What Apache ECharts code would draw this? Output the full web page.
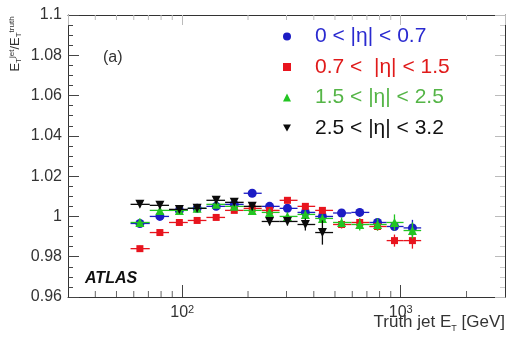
<!DOCTYPE html>
<html>
<head>
<meta charset="utf-8">
<script src="https://cdn.jsdelivr.net/npm/echarts@6/dist/echarts.min.js"></script>
<style>
  html, body { margin: 0; background: #fff; }
  #chart { width: 508px; height: 345px; }
</style>
</head>
<body>
<div id="chart"></div>
<script>
// truth jet ET bins [GeV]
const binEdges = [58, 71, 87, 106, 129, 157, 191, 231, 279, 337, 406, 490, 594, 718, 862, 1030, 1240];
const binCenters = [64, 79, 97, 117, 143, 173, 209, 251, 303, 366, 438, 536, 649, 783, 936, 1131];
const etaLabels = ['0 < |η| < 0.7', '0.7 <  |η| < 1.5', '1.5 < |η| < 2.5', '2.5 < |η| < 3.2'];

// response E_T^jet / E_T^truth
const resp07 = [0.9965, 1.000, 1.003, 1.004, 1.005, 1.006, 1.0115, 1.005, 1.004, 1.002, 1.000, 1.0017, 1.002, 0.997, 0.995, 0.9943];
const resp15 = [0.984, 0.992, 0.997, 0.998, 0.9995, 1.003, 1.004, 1.003, 1.008, 1.005, 1.003, 0.996, 0.997, 0.995, 0.988, 0.988];
const resp25 = [0.997, 1.003, 1.003, 1.004, 1.006, 1.005, 1.003, 1.002, 1.000, 1.001, 0.999, 0.997, 0.996, 0.996, 0.997, 0.993];
const resp32 = [1.006, 1.0055, 1.0035, 1.004, 1.008, 1.007, 1.005, 0.9975, 0.9975, 0.996, 0.992];

const err07 = [0.0015, 0.0012, 0.001, 0.001, 0.001, 0.001, 0.0015, 0.0012, 0.0012, 0.0015, 0.0015, 0.0015, 0.002, 0.002, 0.002, 0.004];
const err15 = [0.0015, 0.0012, 0.001, 0.001, 0.001, 0.001, 0.001, 0.0012, 0.0015, 0.0015, 0.0015, 0.002, 0.002, 0.002, 0.003, 0.004];
const err25 = [0.002, 0.0015, 0.0012, 0.0012, 0.0012, 0.0012, 0.0015, 0.0015, 0.002, 0.002, 0.002, 0.0025, 0.003, 0.003, 0.004, 0.004];
const err32 = [0.0015, 0.0015, 0.0015, 0.0015, 0.0015, 0.0015, 0.002, 0.002, 0.002, 0.003, 0.006];

const xMinorTicks = [40, 50, 60, 70, 80, 90, 200, 300, 400, 500, 600, 700, 800, 900, 2000];

const markerColors = ['#1c1cc4', '#e8141e', '#22c522', '#0b0b0b'];
const textColors = ['#2a2ad0', '#e01a1a', '#55b547', '#111111'];
const symbols = ['circle', 'rect', 'triangle', 'path://M0,0L10,0L5,9Z'];

const chart = echarts.init(document.getElementById('chart'), null, { renderer: 'canvas' });

const FONT = 'Liberation Sans, Arial, sans-serif';

function errBars(params, api) {
    const y = api.value(1);
    const e = api.value(2);
    const pl = api.coord([api.value(3), y]);
    const pr = api.coord([api.value(4), y]);
    const pt = api.coord([api.value(0), y + e]);
    const pb = api.coord([api.value(0), y - e]);
    const style = { stroke: api.visual('color'), lineWidth: 1.3 };
    return {
        type: 'group',
        children: [
            { type: 'line', shape: { x1: pl[0], y1: pl[1], x2: pr[0], y2: pr[1] }, style: style },
            { type: 'line', shape: { x1: pt[0], y1: pt[1], x2: pb[0], y2: pb[1] }, style: style }
        ]
    };
}

// log minor ticks on bottom / top frame
function logTicks(params, api) {
    const pb = api.coord([api.value(0), 0.96]);
    const pt = api.coord([api.value(0), 1.1]);
    return {
        type: 'group',
        children: [
            { type: 'line', shape: { x1: pb[0], y1: pb[1], x2: pb[0], y2: pb[1] - 6 }, style: { stroke: '#666', lineWidth: 1 } },
            { type: 'line', shape: { x1: pt[0], y1: pt[1], x2: pt[0], y2: pt[1] + 5 }, style: { stroke: '#bbb', lineWidth: 1 } }
        ]
    };
}

const allResp = [resp07, resp15, resp25, resp32];
const allErr = [err07, err15, err25, err32];

const series = [];
allResp.forEach(function (resp, k) {
    series.push({
        type: 'custom',
        renderItem: errBars,
        itemStyle: { color: markerColors[k] },
        data: resp.map(function (v, i) { return [binCenters[i], v, allErr[k][i], binEdges[i], binEdges[i + 1]]; }),
        silent: true,
        z: 2 + k * 2
    });
    series.push({
        type: 'scatter',
        name: etaLabels[k],
        symbol: symbols[k],
        symbolSize: k === 1 ? 7 : 9,
        itemStyle: { color: markerColors[k], opacity: 1 },
        data: resp.map(function (v, i) { return [binCenters[i], v]; }),
        z: 3 + k * 2
    });
});
series.push({
    type: 'custom',
    renderItem: logTicks,
    data: xMinorTicks.map(function (v) { return [v, 1]; }),
    silent: true,
    z: 1
});

const axisLineStyle = { color: '#333', width: 1 };

const option = {
    animation: false,
    backgroundColor: '#fff',
    grid: { left: 68, right: 3, top: 15, bottom: 48 },
    legend: {
        orient: 'vertical',
        left: 278,
        top: 21,
        itemWidth: 8,
        itemHeight: 8,
        itemGap: 9.5,
        selectedMode: false,
        data: etaLabels.map(function (n, k) {
            return { name: n, textStyle: { color: textColors[k] } };
        }),
        textStyle: { fontFamily: FONT, fontSize: 21, lineHeight: 21, padding: [0, 0, 0, 19] }
    },
    xAxis: [
        {
            type: 'log',
            logBase: 10,
            min: 30,
            max: 3000,
            position: 'bottom',
            axisLine: { lineStyle: axisLineStyle },
            axisTick: { inside: true, length: 12, lineStyle: { color: '#444' } },
            splitLine: { show: false },
            axisLabel: {
                margin: 7,
                showMinLabel: false,
                showMaxLabel: false,
                formatter: function (v) {
                    const p = Math.round(Math.log10(v));
                    if (Math.abs(Math.pow(10, p) - v) > 1e-6) return '';
                    return '{b|10}{s|' + p + '}';
                },
                rich: {
                    b: { fontFamily: FONT, fontSize: 16, color: '#333', lineHeight: 18 },
                    s: { fontFamily: FONT, fontSize: 11, color: '#333', verticalAlign: 'top', lineHeight: 18, padding: [0, 0, 8, 0] }
                }
            }
        },
        {
            type: 'log',
            logBase: 10,
            min: 30,
            max: 3000,
            position: 'top',
            axisLine: { lineStyle: axisLineStyle },
            axisTick: { inside: true, length: 10, lineStyle: { color: '#bbb' } },
            axisLabel: { show: false },
            splitLine: { show: false }
        }
    ],
    yAxis: [
        {
            type: 'value',
            min: 0.96,
            max: 1.1,
            interval: 0.02,
            position: 'left',
            axisLine: { show: true, lineStyle: axisLineStyle },
            axisTick: { inside: true, length: 11, lineStyle: { color: '#444' } },
            minorTick: { show: true, splitNumber: 4, length: 5, lineStyle: { color: '#444' } },
            splitLine: { show: false },
            axisLabel: {
                margin: 6,
                fontFamily: FONT,
                fontSize: 16,
                color: '#333',
                formatter: function (v) { return String(+v.toFixed(2)); }
            }
        },
        {
            type: 'value',
            min: 0.96,
            max: 1.1,
            interval: 0.02,
            position: 'right',
            axisLine: { show: true, lineStyle: axisLineStyle },
            axisTick: { inside: true, length: 10, lineStyle: { color: '#bbb' } },
            minorTick: { show: true, splitNumber: 4, length: 5, lineStyle: { color: '#ccc' } },
            splitLine: { show: false },
            axisLabel: { show: false }
        }
    ],
    graphic: [
        {
            type: 'text',
            x: 15,
            y: 44,
            rotation: Math.PI / 2,
            style: {
                text: '{e|E}{s|T}{u|jet}{e|/E}{s|T}{u|truth}',
                align: 'center',
                verticalAlign: 'middle',
                rich: {
                    e: { fontFamily: FONT, fontSize: 13, fill: '#333' },
                    s: { fontFamily: FONT, fontSize: 8, fill: '#333', padding: [7, 0, 0, 0] },
                    u: { fontFamily: FONT, fontSize: 8, fill: '#333', padding: [0, 0, 7, 0] }
                }
            }
        },
        {
            type: 'text',
            left: 103,
            top: 50,
            style: { text: '(a)', fontFamily: FONT, fontSize: 16, fill: '#333' }
        },
        {
            type: 'text',
            left: 85,
            top: 271,
            style: { text: 'ATLAS', fontFamily: FONT, fontSize: 16, fontWeight: 'bold', fontStyle: 'italic', fill: '#111' }
        },
        {
            type: 'text',
            right: 3,
            top: 314,
            style: {
                text: '{t|Truth jet E}{s|T}{t| [GeV]}',
                rich: {
                    t: { fontFamily: FONT, fontSize: 17, fill: '#333' },
                    s: { fontFamily: FONT, fontSize: 9, fill: '#333', padding: [13, 0, 0, 0] }
                }
            }
        }
    ],
    series: series
};

chart.setOption(option);
</script>
</body>
</html>
